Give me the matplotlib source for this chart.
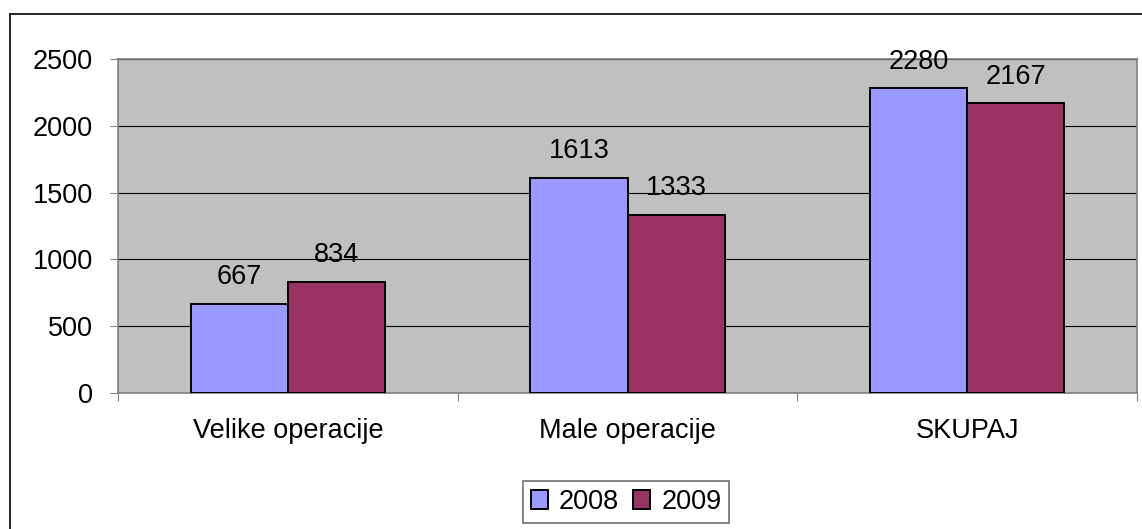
import matplotlib.pyplot as plt
import numpy as np
from matplotlib.lines import Line2D

categories = ['Velike operacije', 'Male operacije', 'SKUPAJ']
years = ['2008', '2009']
values_2008 = [667, 1613, 2280]
values_2009 = [834, 1333, 2167]
y_ticks = [0, 500, 1000, 1500, 2000, 2500]

plt.rcParams['font.family'] = ['Liberation Sans', 'DejaVu Sans']
fs = 19.5

fig = plt.figure(figsize=(11.42, 5.29), dpi=100)
ax = fig.add_axes([118 / 1142, 1 - 393 / 529, (1137 - 118) / 1142, (393 - 59) / 529])

# outer chart border (only left and top are visible in the picture)
fig.add_artist(Line2D([10 / 1142, 10 / 1142], [0, 1 - 14 / 529], transform=fig.transFigure, color='black', lw=1.2))
fig.add_artist(Line2D([10 / 1142, 1], [1 - 14 / 529, 1 - 14 / 529], transform=fig.transFigure, color='black', lw=1.2))

x = np.arange(len(categories))
w = 1 / 3.5  # gap width 150%

bars1 = ax.bar(x - w / 2, values_2008, w, color='#9999FF', edgecolor='black', linewidth=1.4, label=years[0], zorder=3)
bars2 = ax.bar(x + w / 2, values_2009, w, color='#993366', edgecolor='black', linewidth=1.4, label=years[1], zorder=3)

for bars in (bars1, bars2):
    for b in bars:
        ax.annotate(str(int(b.get_height())), (b.get_x() + b.get_width() / 2, b.get_height()),
                    xytext=(0, 14), textcoords='offset points', ha='center', va='baseline',
                    fontsize=fs, zorder=4)

ax.set_facecolor('#C0C0C0')
ax.set_xlim(-0.5, 2.5)
ax.set_ylim(0, 2500)
ax.set_yticks(y_ticks)
ax.yaxis.grid(True, color='black', linewidth=0.8, zorder=1)
ax.set_axisbelow(True)

ax.set_xticks(x)
ax.set_xticklabels(categories)
ax.set_xticks([-0.5, 0.5, 1.5, 2.5], minor=True)
ax.tick_params(axis='x', which='major', length=0, pad=18, labelsize=fs)
ax.tick_params(axis='x', which='minor', length=6, width=0.8, color='#808080')
ax.tick_params(axis='y', length=6, width=0.8, color='#808080', pad=12, labelsize=fs)

for s in ax.spines.values():
    s.set_color('#808080')
    s.set_linewidth(1.2)

leg = ax.legend(loc='center', bbox_to_anchor=(626 / 1142, 1 - 502 / 529), bbox_transform=fig.transFigure,
                ncol=2, fontsize=fs, frameon=True, fancybox=False, edgecolor='#707070', framealpha=1,
                handlelength=0.65, handleheight=0.65, handletextpad=0.4, columnspacing=0.5,
                borderpad=0.3, borderaxespad=0)
leg.get_frame().set_linewidth(1.2)

fig.savefig('out.png', dpi=100)
